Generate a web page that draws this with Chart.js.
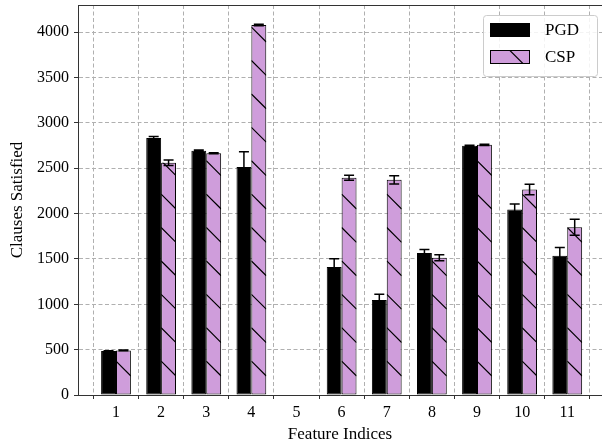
<!DOCTYPE html>
<html>
<head>
<meta charset="utf-8">
<script src="https://cdn.jsdelivr.net/npm/chart.js@4.4.1/dist/chart.umd.min.js"></script>
<style>
  body { margin: 0; background: #fff; }
</style>
</head>
<body>
<canvas id="myChart" width="602" height="446"></canvas>
<script>
// values
const categories = [1, 2, 3, 4, 5, 6, 7, 8, 9, 10, 11]
const pgdValues = [485, 2833, 2693, 2513, 0, 1412, 1047, 1565, 2748, 2045, 1534]
const pgdErrors = [4, 18, 8, 170, 0, 90, 65, 38, 5, 62, 92]
const cspValues = [492, 2560, 2665, 4080, 0, 2395, 2372, 1512, 2758, 2265, 1850]
const cspErrors = [4, 30, 5, 8, 0, 28, 45, 33, 8, 58, 88]
const yTicks = [0, 500, 1000, 1500, 2000, 2500, 3000, 3500, 4000]

const FONT = 'Liberation Serif'
const PURPLE = '#cf9ddb'
const SPINE = '#333333'
const HATCH_GAP = 33.4

function drawHatch(ctx, left, top, right, bottom) {
  const w = right - left
  if (bottom - top < 1 || w < 1) return
  ctx.save()
  ctx.beginPath()
  ctx.rect(left, top, w, bottom - top)
  ctx.clip()
  ctx.strokeStyle = '#000'
  ctx.lineWidth = 1.2
  ctx.beginPath()
  for (let y = bottom - HATCH_GAP; y > top - w; y -= HATCH_GAP) {
    ctx.moveTo(left, y)
    ctx.lineTo(right, y + w)
  }
  ctx.stroke()
  ctx.restore()
}

const extras = {
  id: 'extras',
  afterDatasetsDraw(chart) {
    const ctx = chart.ctx
    const yScale = chart.scales.y
    const errs = [pgdErrors, cspErrors]

    // hatch the CSP bars
    chart.getDatasetMeta(1).data.forEach(bar => {
      const p = bar.getProps(['x', 'y', 'base', 'width'])
      drawHatch(ctx, p.x - p.width / 2, p.y, p.x + p.width / 2, p.base)
    })

    // error bars
    ctx.save()
    ctx.strokeStyle = '#000'
    ctx.lineWidth = 1.5
    chart.data.datasets.forEach((ds, i) => {
      chart.getDatasetMeta(i).data.forEach((bar, j) => {
        const e = errs[i][j]
        if (!e) return
        const v = ds.data[j].y
        const x = bar.x
        const lo = yScale.getPixelForValue(v - e)
        const hi = yScale.getPixelForValue(v + e)
        ctx.beginPath()
        ctx.moveTo(x, lo); ctx.lineTo(x, hi)
        ctx.moveTo(x - 5, lo); ctx.lineTo(x + 5, lo)
        ctx.moveTo(x - 5, hi); ctx.lineTo(x + 5, hi)
        ctx.stroke()
      })
    })
    ctx.restore()
  },
  afterDraw(chart) {
    const ctx = chart.ctx
    const area = chart.chartArea

    // top spine
    ctx.save()
    ctx.strokeStyle = SPINE
    ctx.lineWidth = 1
    ctx.beginPath()
    ctx.moveTo(area.left, Math.round(area.top) + 0.5)
    ctx.lineTo(area.right, Math.round(area.top) + 0.5)
    ctx.stroke()

    // legend
    const bx = 483, by = 15, bw = 114, bh = 61
    ctx.fillStyle = 'rgba(255,255,255,0.85)'
    ctx.strokeStyle = '#cccccc'
    ctx.beginPath()
    ctx.roundRect(bx + 0.5, by + 0.5, bw, bh, 3)
    ctx.fill()
    ctx.stroke()

    const ds = chart.data.datasets
    ds.forEach((d, i) => {
      const sx = 490, sy = 23 + i * 27, sw = 40, sh = 14
      ctx.fillStyle = d.backgroundColor
      ctx.fillRect(sx, sy, sw, sh)
      if (i === 1) drawHatch(ctx, sx, sy, sx + sw, sy + sh)
      ctx.strokeStyle = '#000'
      ctx.lineWidth = 1
      ctx.strokeRect(sx + 0.5, sy + 0.5, sw - 1, sh - 1)
      ctx.fillStyle = '#000'
      ctx.font = '17px "' + FONT + '"'
      ctx.textBaseline = 'middle'
      ctx.textAlign = 'left'
      ctx.fillText(d.label, 545, sy + sh / 2 + 1)
    })
    ctx.restore()
  }
}

function createChart() {
  const ctx = document.getElementById('myChart')
  new Chart(ctx, {
    type: 'bar',
    data: {
      datasets: [{
        label: 'PGD',
        data: categories.map((c, i) => ({ x: c, y: pgdValues[i] })),
        backgroundColor: '#000000',
        borderColor: '#000000',
        borderWidth: 1,
        borderSkipped: false
      }, {
        label: 'CSP',
        data: categories.map((c, i) => ({ x: c, y: cspValues[i] })),
        backgroundColor: PURPLE,
        borderColor: '#000000',
        borderWidth: 1,
        borderSkipped: false
      }]
    },
    options: {
      responsive: false,
      animation: false,
      devicePixelRatio: 1,
      categoryPercentage: 0.66,
      barPercentage: 1.0,
      layout: { padding: { top: 5, right: 0, left: 0, bottom: 0 } },
      plugins: {
        legend: { display: false },
        tooltip: { enabled: false }
      },
      scales: {
        x: {
          type: 'linear',
          offset: false,
          min: 0.158,
          max: 11.77,
          afterBuildTicks: scale => { scale.ticks = categories.map(v => ({ value: v })) },
          afterFit: scale => {
            scale.height = 51
            scale.paddingLeft = 0
            scale.paddingRight = 0
          },
          grid: {
            color: '#b0b0b0',
            lineWidth: 1,
            tickLength: 4,
            tickColor: SPINE,
            tickBorderDash: []
          },
          border: { color: SPINE, width: 1, dash: [4, 2.5] },
          ticks: {
            color: '#000',
            padding: 4,
            autoSkip: false,
            maxRotation: 0,
            callback: v => String(v),
            font: { family: FONT, size: 16 }
          },
          title: {
            display: true,
            text: 'Feature Indices',
            color: '#000',
            padding: { top: 0, bottom: 1 },
            font: { family: FONT, size: 17 }
          }
        },
        y: {
          min: 0,
          max: 4300,
          afterBuildTicks: scale => { scale.ticks = yTicks.map(v => ({ value: v })) },
          afterFit: scale => {
            scale.width = 78
            scale.paddingTop = 0
            scale.paddingBottom = 0
          },
          grid: {
            color: '#b0b0b0',
            lineWidth: 1,
            tickLength: 4,
            tickColor: SPINE,
            tickBorderDash: []
          },
          border: { color: SPINE, width: 1, dash: [4, 2.5] },
          ticks: {
            color: '#000',
            padding: 5,
            callback: v => String(v),
            font: { family: FONT, size: 16 }
          },
          title: {
            display: true,
            text: 'Clauses Satisfied',
            color: '#000',
            padding: { top: 7, bottom: 0 },
            font: { family: FONT, size: 17 }
          }
        }
      }
    },
    plugins: [extras]
  })
}
createChart()
</script>
</body>
</html>
